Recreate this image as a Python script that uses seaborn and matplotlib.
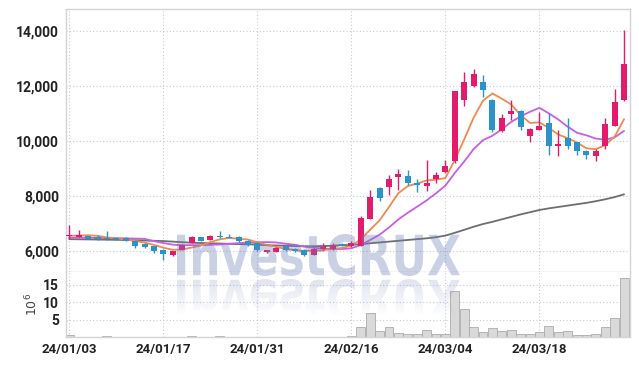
import numpy as np
import matplotlib
matplotlib.use("Agg")
import matplotlib.pyplot as plt
import seaborn as sns
from matplotlib.textpath import TextPath
from matplotlib.patches import PathPatch
from matplotlib.font_manager import FontProperties
from matplotlib.transforms import Affine2D, IdentityTransform, Bbox

# ── Data ──────────────────────────────────────────────────────
opens = [6520, 6510, 6520, 6500, 6460, 6450, 6460, 6360, 6250, 6160,
         6040, 5860, 6040, 6290, 6480, 6400, 6540, 6500, 6500, 6370,
         6280, 5940, 5970, 6160, 6050, 6040, 5860, 6060, 6060, 6250,
         6180, 6180, 7160, 8280, 8320, 8680, 8730, 8460, 8340, 8610,
         8850, 9250, 11470, 12000, 12130, 11470, 10370, 10970, 11090, 10180,
         10400, 10640, 9790, 10100, 9940, 9640, 9430, 9820, 10550, 11470]
highs = [6940, 6770, 6540, 6580, 6700, 6470, 6480, 6390, 6270, 6180,
         6060, 6000, 6250, 6520, 6500, 6560, 6700, 6600, 6520, 6400,
         6300, 6030, 6120, 6180, 6080, 6060, 6080, 6280, 6270, 6280,
         6340, 7250, 8200, 8300, 8760, 8970, 8920, 8600, 9300, 8880,
         9300, 11800, 12510, 12600, 12400, 11500, 10960, 11470, 11120, 10480,
         11040, 11010, 10400, 10830, 9970, 9660, 9700, 10830, 11880, 14030]
lows = [6430, 6480, 6420, 6400, 6400, 6380, 6340, 6100, 6100, 5920,
        5650, 5820, 6020, 6270, 6350, 6380, 6460, 6450, 6320, 6180,
        5980, 5920, 5950, 5990, 5950, 5820, 5840, 6040, 6040, 6160,
        6150, 6160, 7140, 7820, 8040, 8200, 8400, 8150, 8180, 8460,
        8820, 9200, 11250, 11950, 11600, 10300, 10330, 10760, 10400, 9970,
        10380, 9490, 9430, 9700, 9490, 9350, 9280, 9700, 10520, 11450]
closes = [6580, 6560, 6440, 6420, 6420, 6400, 6360, 6180, 6120, 6000,
          5890, 5975, 6220, 6480, 6370, 6520, 6480, 6470, 6340, 6220,
          6010, 6010, 6100, 6010, 5980, 5860, 6060, 6180, 6220, 6180,
          6280, 7190, 7950, 7920, 8610, 8800, 8480, 8400, 8480, 8760,
          9090, 11790, 12120, 12440, 11850, 10400, 10830, 11070, 10500, 10430,
          10520, 9790, 9890, 9820, 9640, 9470, 9640, 10620, 11390, 12800]

# volume in millions of shares
volume_m = [0.6, 0.1, 0.05, 0.05, 0.35, 0.1, 0.05, 0.05, 0.05, 0.05,
            0.05, 0.05, 0.1, 0.35, 0.05, 0.1, 0.35, 0.05, 0.05, 0.05,
            0.05, 0.05, 0.05, 0.05, 0.05, 0.05, 0.05, 0.1, 0.1, 0.1,
            0.3, 2.8, 6.8, 1.7, 2.8, 1.05, 0.76, 0.76, 1.9, 0.76,
            0.76, 13.2, 7.9, 2.8, 1.33, 2.5, 1.6, 1.9, 0.76, 0.76,
            1.33, 3.05, 1.33, 1.6, 0.48, 0.48, 0.76, 2.8, 5.3, 16.8]

ma5 = [6540, 6550, 6560, 6540, 6484, 6448, 6408, 6356, 6296, 6212,
       6110, 6033, 6041, 6113, 6187, 6313, 6414, 6464, 6436, 6406,
       6304, 6210, 6136, 6070, 6022, 5992, 6002, 6018, 6060, 6100,
       6184, 6410, 6764, 7104, 7590, 8094, 8352, 8442, 8554, 8584,
       8642, 9304, 10048, 10840, 11458, 11720, 11528, 11318, 10930, 10646,
       10670, 10462, 10226, 10090, 9932, 9722, 9692, 9838, 10152, 10784]
ma10 = [6470, 6470, 6470, 6465, 6460, 6455, 6450, 6440, 6430, 6348,
        6279, 6220, 6198, 6204, 6200, 6212, 6224, 6252, 6274, 6296,
        6308, 6312, 6300, 6253, 6214, 6148, 6106, 6077, 6065, 6061,
        6088, 6206, 6391, 6582, 6845, 7139, 7381, 7603, 7829, 8087,
        8368, 8828, 9245, 9697, 10021, 10181, 10416, 10683, 10885, 11052,
        11195, 10995, 10772, 10510, 10289, 10196, 10077, 10032, 10121, 10358]
ma60 = [6420, 6415, 6410, 6405, 6400, 6395, 6390, 6380, 6370, 6360,
        6350, 6330, 6310, 6290, 6280, 6270, 6260, 6250, 6240, 6230,
        6220, 6200, 6190, 6180, 6170, 6160, 6160, 6170, 6180, 6200,
        6210, 6240, 6270, 6300, 6330, 6360, 6390, 6420, 6450, 6490,
        6550, 6650, 6760, 6870, 6970, 7050, 7140, 7230, 7320, 7400,
        7480, 7540, 7590, 7640, 7690, 7740, 7800, 7870, 7950, 8050]

tick_labels = ["24/01/03", "24/01/17", "24/01/31", "24/02/16", "24/03/04", "24/03/18"]

# ── Style ──────────────────────────────────────────────────────
sns.set_theme(style="white")
plt.rcParams["font.family"] = ["Roboto", "DejaVu Sans"]

UP = "#e11c6c"
DOWN = "#2b93c9"
ORANGE = "#ef8a4f"
PURPLE = "#c75de8"
GREY_LINE = "#6e6e6e"
GRID = "#c6c9da"
FRAME = "#d4d4d8"
WATERMARK = "#6f80b6"

idx = np.arange(len(closes))
o = np.array(opens)
c = np.array(closes)
up = c >= o
colours = [UP if u else DOWN for u in up]

fig = plt.figure(figsize=(6.39, 3.66), dpi=100)
ax = fig.add_axes([66 / 639, 1 - 272 / 366, 564 / 639, 263 / 366])
axv = fig.add_axes([66 / 639, 1 - 337 / 366, 564 / 639, 65 / 366], sharex=ax)

# moving averages (behind the candles)
sns.lineplot(x=idx, y=ma60, ax=ax, color=GREY_LINE, linewidth=1.3, zorder=2)
sns.lineplot(x=idx, y=ma10, ax=ax, color=PURPLE, linewidth=1.3, zorder=2)
sns.lineplot(x=idx, y=ma5, ax=ax, color=ORANGE, linewidth=1.3, zorder=2)

# candles
ax.vlines(idx, lows, highs, colors=colours, linewidth=1.0, zorder=3)
body = np.maximum(np.abs(c - o), 40)
ax.bar(idx, body, bottom=np.minimum(o, c), width=0.64, color=colours,
       linewidth=0, zorder=4)

# volume
sns.barplot(x=idx, y=volume_m, ax=axv, color="#d9d9d9", edgecolor="#ababab",
            linewidth=0.6, width=0.95, saturation=1, native_scale=True, zorder=2)

# ── Axes cosmetics ─────────────────────────────────────────────
tick_pos = list(range(0, len(closes), 10))
for a in (ax, axv):
    a.set_xlim(-0.35, 59.63)
    a.grid(True, linestyle=(0, (1, 2)), color=GRID, linewidth=0.8)
    a.set_axisbelow(True)
    for s in a.spines.values():
        s.set_color(FRAME)
        s.set_linewidth(1.0)
    a.tick_params(length=0, colors="#222222")

ax.set_ylim(5225, 14790)
ax.set_yticks([6000, 8000, 10000, 12000, 14000])
ax.set_yticklabels([f"{v:,}" for v in [6000, 8000, 10000, 12000, 14000]],
                   fontsize=10, fontweight="bold")
ax.set_xticks(tick_pos)
ax.tick_params(axis="x", labelbottom=False)
ax.tick_params(axis="y", pad=5)
ax.set_xlabel("")
ax.set_ylabel("")

axv.set_ylim(0, 18.6)
axv.set_yticks([5, 10, 15])
axv.set_yticklabels(["5", "10", "15"], fontsize=10, fontweight="bold")
axv.set_xticks(tick_pos)
axv.set_xticklabels(tick_labels, fontsize=9.5, fontweight="bold")
axv.tick_params(axis="x", pad=4)
axv.tick_params(axis="y", pad=5)
axv.set_xlabel("")
axv.set_ylabel(r"$10^{6}$", fontsize=9, color="#444444", labelpad=2)
axv.spines["top"].set_visible(False)

# ── Watermark with reflection ──────────────────────────────────
tp = TextPath((0, 0), "InvestCRUX", size=50,
              prop=FontProperties(family="DejaVu Sans", weight="bold"))
ext = tp.get_extents()
x0, x1, y_top, y_base = 177, 460, 234, 276
sx = (x1 - x0) / ext.width
sy = (y_base - y_top) / ext.height
H = 366
main_tr = Affine2D().translate(-ext.x0, -ext.y0).scale(sx, sy).translate(x0, H - y_base)
fig.add_artist(PathPatch(main_tr.transform_path(tp), transform=IdentityTransform(),
                         facecolor=WATERMARK, edgecolor="none", alpha=0.36, zorder=5))

ref_top = 279
ref_tr = Affine2D().translate(-ext.x0, -ext.y0).scale(sx, -sy).translate(x0, H - ref_top)
ref_path = ref_tr.transform_path(tp)
n_strips = 12
strip_h = 36 / n_strips
for k in range(n_strips):
    ytop = H - ref_top - k * strip_h
    p = PathPatch(ref_path, transform=IdentityTransform(), facecolor=WATERMARK,
                  edgecolor="none", alpha=0.2 * (1 - k / n_strips), zorder=5)
    fig.add_artist(p)
    p.set_clip_box(Bbox([[0, ytop - strip_h], [639, ytop]]))

fig.savefig("out.png", dpi=100)
